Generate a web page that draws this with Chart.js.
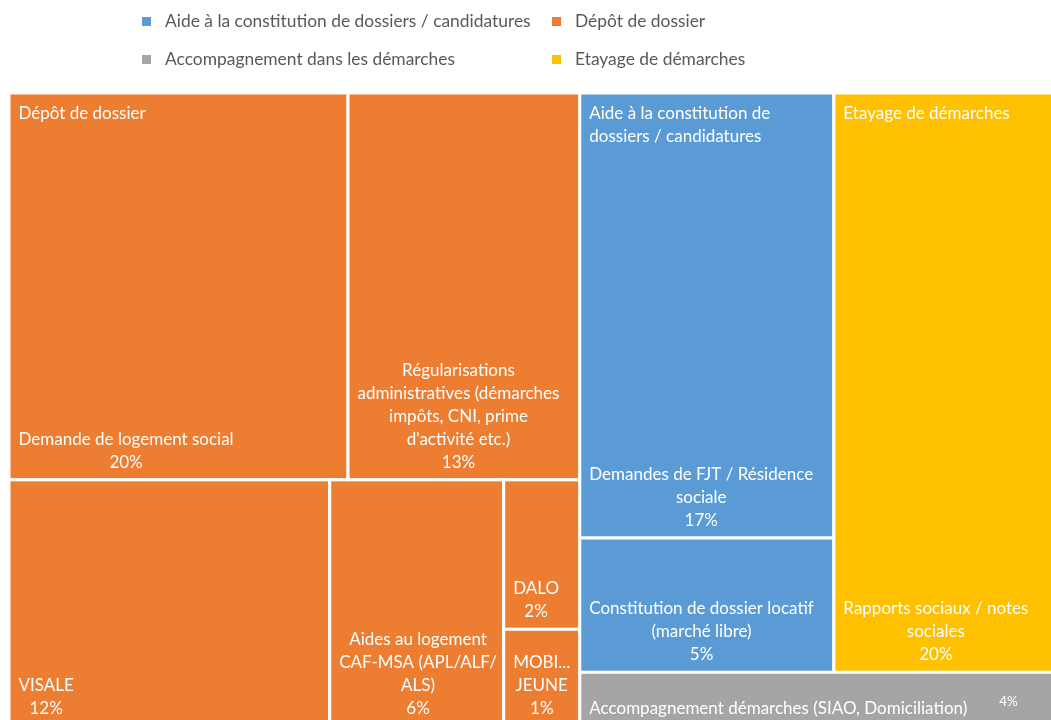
<!DOCTYPE html>
<html lang="fr">
<head>
<meta charset="utf-8">
<title>Treemap</title>
<script src="https://cdn.jsdelivr.net/npm/chart.js@4.4.1/dist/chart.umd.min.js"></script>
<style>
  html, body { margin: 0; padding: 0; background: #fff; overflow: hidden; }
  #wrap { position: relative; width: 1066px; height: 726px; }
  #legend { position: absolute; left: 0; top: 0; font-family: Lato, sans-serif; font-size: 17.4px; color: #595959; }
  .lg { position: absolute; height: 20px; line-height: 20px; white-space: nowrap; display: flex; align-items: center; }
  .lg i { display: inline-block; width: 9px; height: 9px; margin-right: 14px; }
</style>
</head>
<body>
<div id="wrap">
  <canvas id="c" width="1066" height="726"></canvas>
  <div id="legend"></div>
</div>
<script>
const groupNames = [
  "Aide à la constitution de dossiers / candidatures",
  "Dépôt de dossier",
  "Accompagnement dans les démarches",
  "Etayage de démarches"
];
const groupColors = ["#5b9bd5", "#ed7d31", "#a5a5a5", "#ffc000"];

// item labels as they are broken in the picture
const itemLabels = [
  ["Demande de logement social"],
  ["Régularisations", "administratives (démarches", "impôts, CNI, prime", "d'activité etc.)"],
  ["VISALE"],
  ["Aides au logement", "CAF-MSA (APL/ALF/", "ALS)"],
  ["DALO"],
  ["MOBI...", "JEUNE"],
  ["Demandes de FJT / Résidence", "sociale"],
  ["Constitution de dossier locatif", "(marché libre)"],
  ["Rapports sociaux / notes", "sociales"],
  ["Accompagnement démarches (SIAO, Domiciliation)"]
];
const itemGroup = [1, 1, 1, 1, 1, 1, 0, 0, 3, 2];
const itemValues = [19.6, 13.4, 11.8, 6.4, 1.7, 1.1, 16.9, 5.1, 20.1, 3.9];

// how the tiles are nested: 'h' = side by side, 'v' = stacked
const layoutTree = ["h",
  ["v", ["h", 0, 1], ["h", 2, 3, ["v", 4, 5]]],
  ["v", ["h", ["v", 6, 7], 8], 9]
];

const FONT = "Lato, sans-serif";
const FSIZE = 17;
const PAD = 9.5;
const LINE_H = 23;

function nodeSum(node) {
  if (typeof node === "number") return itemValues[node];
  return node.slice(1).reduce((s, n) => s + nodeSum(n), 0);
}

function layout(node, x0, y0, x1, y1, out) {
  if (typeof node === "number") {
    out[node] = { x0, y0, x1, y1 };
    return;
  }
  const dir = node[0];
  const sum = nodeSum(node);
  let pos = dir === "h" ? x0 : y0;
  node.slice(1).forEach(k => {
    const span = (dir === "h" ? x1 - x0 : y1 - y0) * nodeSum(k) / sum;
    if (dir === "h") layout(k, pos, y0, pos + span, y1, out);
    else layout(k, x0, pos, x1, pos + span, out);
    pos += span;
  });
}

function wrap(ctx, text, maxW) {
  const words = text.split(" ");
  const lines = [];
  let cur = "";
  words.forEach(w => {
    const t = cur ? cur + " " + w : w;
    if (cur && ctx.measureText(t).width > maxW) {
      lines.push(cur);
      cur = w;
    } else cur = t;
  });
  if (cur) lines.push(cur);
  return lines;
}

const treemapPlugin = {
  id: "treemap",
  afterDatasetsDraw(chart) {
    const { ctx, scales: { x, y } } = chart;
    const total = itemValues.reduce((a, b) => a + b, 0);
    const cells = [];
    layout(layoutTree, 0, 0, 1, 1, cells);
    const px = cells.map(c => ({
      left: x.getPixelForValue(c.x0),
      right: x.getPixelForValue(c.x1),
      top: y.getPixelForValue(c.y0),
      bottom: y.getPixelForValue(c.y1)
    }));

    ctx.save();
    // tiles
    px.forEach((r, i) => {
      ctx.fillStyle = groupColors[itemGroup[i]];
      ctx.fillRect(r.left, r.top, r.right - r.left, r.bottom - r.top);
      ctx.strokeStyle = "#ffffff";
      ctx.lineWidth = 3;
      ctx.strokeRect(r.left, r.top, r.right - r.left, r.bottom - r.top);
    });

    ctx.fillStyle = "#ffffff";
    ctx.textBaseline = "alphabetic";

    // group headers at top left
    ctx.font = FSIZE + "px " + FONT;
    ctx.textAlign = "left";
    groupNames.forEach((name, g) => {
      const rs = px.filter((r, i) => itemGroup[i] === g);
      const left = Math.min(...rs.map(r => r.left));
      const right = Math.max(...rs.map(r => r.right));
      const top = Math.min(...rs.map(r => r.top));
      const bottom = Math.max(...rs.map(r => r.bottom));
      if (bottom - top < 100) return;
      wrap(ctx, name, right - left - 2 * PAD).forEach((l, k) => {
        ctx.fillText(l, left + PAD, top + 26 + k * LINE_H);
      });
    });

    // item labels at bottom
    px.forEach((r, i) => {
      const pct = Math.round(itemValues[i] / total * 100) + "%";
      const lines = itemLabels[i].concat([pct]);
      ctx.font = FSIZE + "px " + FONT;
      if (lines.length * LINE_H + 12 <= r.bottom - r.top) {
        const bw = Math.max(...lines.map(l => ctx.measureText(l).width));
        const cx = r.left + PAD + bw / 2;
        ctx.textAlign = "center";
        lines.forEach((l, k) => {
          ctx.fillText(l, cx, r.bottom - 12 - (lines.length - 1 - k) * LINE_H);
        });
      } else {
        // not enough height: value goes beside the name, smaller
        const name = itemLabels[i].join(" ");
        ctx.textAlign = "left";
        const base = r.bottom - 12;
        ctx.fillText(name, r.left + PAD, base);
        const nw = ctx.measureText(name).width;
        ctx.font = "13.5px " + FONT;
        ctx.fillText(pct, r.left + PAD + nw + 32, base - 8);
      }
    });
    ctx.restore();
  }
};

new Chart(document.getElementById("c"), {
  type: "scatter",
  data: {
    datasets: groupNames.map((name, g) => ({
      label: name,
      data: [],
      backgroundColor: groupColors[g]
    }))
  },
  options: {
    responsive: false,
    animation: false,
    devicePixelRatio: 1,
    layout: { padding: { left: 9, top: 93, right: 0, bottom: 0 } },
    scales: {
      x: { type: "linear", min: 0, max: 1, display: false },
      y: { type: "linear", min: 0, max: 1, reverse: true, display: false }
    },
    plugins: {
      legend: { display: false },
      tooltip: { enabled: false }
    }
  },
  plugins: [treemapPlugin]
});

// legend in two columns
const legendCols = [142, 552];
const legendRows = [21, 59];
const legendEl = document.getElementById("legend");
groupNames.forEach((name, g) => {
  const d = document.createElement("div");
  d.className = "lg";
  d.style.left = legendCols[g % 2] + "px";
  d.style.top = (legendRows[Math.floor(g / 2)] - 10) + "px";
  const m = document.createElement("i");
  m.style.background = groupColors[g];
  d.appendChild(m);
  d.appendChild(document.createTextNode(name));
  legendEl.appendChild(d);
});
</script>
</body>
</html>
